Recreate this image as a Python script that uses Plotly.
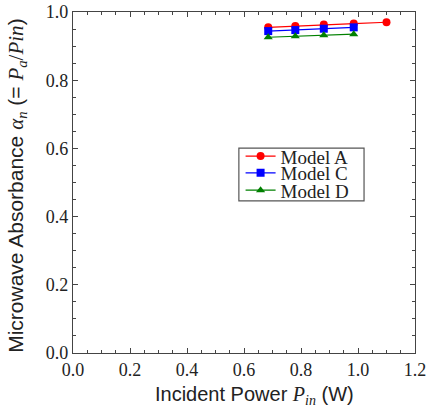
import plotly.graph_objects as go

power_a = [0.685, 0.78, 0.88, 0.985, 1.1]
absorb_a = [0.955, 0.959, 0.963, 0.966, 0.970]
power_c = [0.685, 0.78, 0.88, 0.985]
absorb_c = [0.944, 0.947, 0.951, 0.955]
power_d = [0.685, 0.78, 0.88, 0.985]
absorb_d = [0.926, 0.929, 0.932, 0.935]

x_title = "Incident Power <span style='font-family:Liberation Serif'><i>P<sub>in</sub></i></span> (W)"
y_title = ("Microwave Absorbance <span style='font-family:Liberation Serif'><i>α<sub>n</sub></i></span> "
           "(= <span style='font-family:Liberation Serif'><i>P<sub>a</sub></i>/<i>Pin</i></span>)")

series = [
    ("Model A", power_a, absorb_a, "red", "circle", "legend"),
    ("Model C", power_c, absorb_c, "blue", "square", "legend2"),
    ("Model D", power_d, absorb_d, "green", "triangle-up", "legend3"),
]

fig = go.Figure()
for name, x, y, color, sym, lg in series:
    fig.add_trace(go.Scatter(
        x=x, y=y, name=name, mode="lines+markers", legend=lg,
        line=dict(color=color, width=1.2),
        marker=dict(color=color, symbol=sym, size=8),
    ))

serif = "Liberation Serif"
sans = "Liberation Sans"
axis_common = dict(
    showline=True, linecolor="#444", linewidth=1.2, mirror="ticks",
    ticks="inside", ticklen=5, tickcolor="#444",
    minor=dict(ticks="inside", ticklen=3, tickcolor="#444", showgrid=False),
    showgrid=False, zeroline=False,
    tickfont=dict(family=serif, size=18, color="#222"),
    tickformat=".1f", automargin=False,
)

def leg(ypos):
    return dict(
        x=0.49, y=ypos, xanchor="left", yanchor="middle",
        bgcolor="rgba(0,0,0,0)", borderwidth=0,
        font=dict(family=serif, size=19, color="#222"),
        itemwidth=30,
    )

fig.update_layout(
    width=428, height=410,
    margin=dict(l=73, r=13, t=12, b=57),
    plot_bgcolor="white", paper_bgcolor="white",
    showlegend=True,
    legend=leg(0.577),
    legend2=leg(0.528),
    legend3=leg(0.477),
    shapes=[dict(
        type="rect", xref="paper", yref="paper",
        x0=0.485, x1=0.851, y0=0.446, y1=0.601,
        line=dict(color="#555", width=1.2), fillcolor="white", layer="below",
    )],
    annotations=[
        dict(text=x_title, xref="paper", yref="paper", x=0.532, y=-0.126,
             xanchor="center", yanchor="middle", showarrow=False,
             font=dict(family=sans, size=20, color="#222")),
        dict(text=y_title, xref="paper", yref="paper", x=-0.164, y=0.49,
             xanchor="center", yanchor="middle", showarrow=False, textangle=-90,
             font=dict(family=sans, size=21, color="#222")),
    ],
    xaxis=dict(range=[0, 1.2], dtick=0.2, **axis_common),
    yaxis=dict(range=[0, 1.0], dtick=0.2, **axis_common),
)

fig.write_html("out.html", config={"displayModeBar": False},
               post_script="document.body.style.margin='0';")
